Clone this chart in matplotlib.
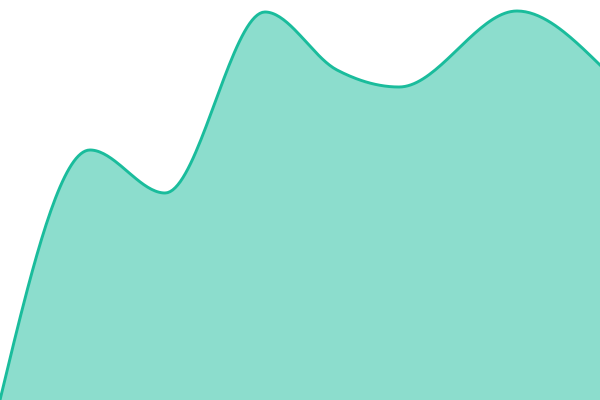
import numpy as np
import matplotlib
matplotlib.use("Agg")
import matplotlib.pyplot as plt

# data (x position, value = height above bottom)
xs = [0, 90, 165, 265, 337, 399, 517, 600]
values = [0, 250, 207, 388, 330, 313, 389, 335]

line_color = "#1abc9c"


def monotone_x(x, y, n=40):
    # d3 style curveMonotoneX, drawn as cubic bezier pieces
    x = np.asarray(x, float)
    y = np.asarray(y, float)
    h = np.diff(x)
    s = np.diff(y) / h
    m = np.zeros(len(x))
    for i in range(1, len(x) - 1):
        p = (s[i - 1] * h[i] + s[i] * h[i - 1]) / (h[i - 1] + h[i])
        m[i] = (np.sign(s[i - 1]) + np.sign(s[i])) * min(abs(s[i - 1]), abs(s[i]), 0.5 * abs(p))
    m[0] = (3 * s[0] - m[1]) / 2
    m[-1] = (3 * s[-1] - m[-2]) / 2
    px, py = [], []
    t = np.linspace(0, 1, n)
    for i in range(len(x) - 1):
        dx = h[i] / 3
        x0, x1, x2, x3 = x[i], x[i] + dx, x[i + 1] - dx, x[i + 1]
        y0, y1, y2, y3 = y[i], y[i] + dx * m[i], y[i + 1] - dx * m[i + 1], y[i + 1]
        bx = (1 - t) ** 3 * x0 + 3 * (1 - t) ** 2 * t * x1 + 3 * (1 - t) * t ** 2 * x2 + t ** 3 * x3
        by = (1 - t) ** 3 * y0 + 3 * (1 - t) ** 2 * t * y1 + 3 * (1 - t) * t ** 2 * y2 + t ** 3 * y3
        px.extend(bx)
        py.extend(by)
    return np.array(px), np.array(py)


cx, cy = monotone_x(xs, values)

fig = plt.figure(figsize=(6, 4), dpi=100)
ax = fig.add_axes([0, 0, 1, 1])
ax.fill_between(cx, 0, cy, color=line_color, alpha=0.5, linewidth=0)
ax.plot(cx, cy, color=line_color, linewidth=2.1)
ax.set_xlim(0, 600)
ax.set_ylim(0, 400)
ax.axis("off")
fig.savefig("out.png", dpi=100)
